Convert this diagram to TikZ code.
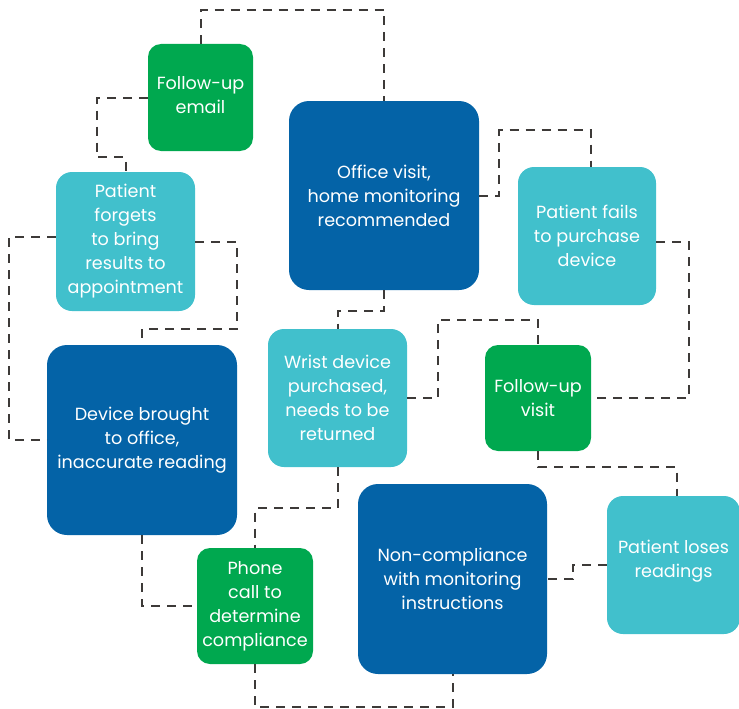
\documentclass[tikz,border=0pt]{standalone}
\usepackage{fontspec}
\setmainfont{Poppins}
\usetikzlibrary{calc}
\definecolor{dblue}{HTML}{0463A7}
\definecolor{fgreen}{HTML}{00A84F}
\definecolor{teal}{HTML}{41C0CC}
\definecolor{conncol}{HTML}{3D3A38}
\newcommand{\raisedlines}[2]{\raisebox{#1}[0pt][0pt]{\begin{tabular}{@{}c@{}}#2\end{tabular}}}
\tikzset{
  box/.style={rectangle, text=white, align=center, inner sep=2pt,
    font=\fontsize{17.6}{24}\selectfont},
  bigbox/.style={box, fill=dblue, rounded corners=20pt},
  greenbox/.style={box, fill=fgreen, rounded corners=13pt},
  tealbox/.style={box, fill=teal, rounded corners=16pt},
  conn/.style={draw=conncol, line width=2pt, dash pattern=on 9pt off 7pt}
}
\begin{document}
\begin{tikzpicture}[x=1pt,y=-1pt]
\useasboundingbox (0,0) rectangle (739,709);
% boxes
\node[greenbox, minimum width=105pt, minimum height=107pt] (email) at (200.5,97.5) {\raisedlines{-4pt}{Follow-up\\email}};
\node[bigbox, minimum width=190pt, minimum height=189pt] (office) at (384,195.5) {Office visit,\\home monitoring\\recommended};
\node[tealbox, minimum width=139pt, minimum height=139pt] (forgets) at (125.5,241.5) {Patient\\forgets\\to bring\\results to\\appointment};
\node[tealbox, minimum width=138pt, minimum height=138pt] (fails) at (587,236) {Patient fails\\to purchase\\device};
\node[greenbox, minimum width=106pt, minimum height=106pt] (fvisit) at (538,398) {Follow-up\\visit};
\node[bigbox, minimum width=190pt, minimum height=190pt] (device) at (142,440) {Device brought\\to office,\\inaccurate reading};
\node[tealbox, minimum width=139pt, minimum height=138pt] (wrist) at (337.5,398) {Wrist device\\purchased,\\needs to be\\returned};
\node[greenbox, minimum width=116pt, minimum height=116pt] (phone) at (255,606) {Phone\\call to\\determine\\compliance};
\node[bigbox, minimum width=189pt, minimum height=190pt] (noncomp) at (452.5,579) {Non-compliance\\with monitoring\\instructions};
\node[tealbox, minimum width=133pt, minimum height=138pt] (loses) at (673.5,565) {\raisedlines{0pt}{Patient loses\\readings}};
% connectors
\draw[conn] (email.north) -- ++(0,-34) -| (office.north);
\draw[conn] (email.west) -- ++(-51,0) -- ++(0,59.5) -| (forgets.north);
\draw[conn] ([yshift=4.5pt]forgets.west) -- ++(-47,0) |- (device.west);
\draw[conn] (forgets.east) -- ++(41.5,0) -- ++(0,87.5) -| (device.north);
\draw[conn] (office.south) -- ++(0,21) -| (wrist.north);
\draw[conn] (office.east) -- ++(20,0) -- ++(0,-65.5) -| ([xshift=4pt]fails.north);
\draw[conn] ([yshift=-6pt]fails.east) -- ++(33,0) |- (fvisit.east);
\draw[conn] (wrist.east) -- ++(31,0) -- ++(0,-78) -| (fvisit.north);
\draw[conn] (fvisit.south) -- ++(0,16) -| ([xshift=3pt]loses.north);
\draw[conn] (loses.west) -- ++(-34,0) |- (noncomp.east);
\draw[conn] (wrist.south) -- ++(0,41) -| (phone.north);
\draw[conn] (device.south) |- (phone.west);
\draw[conn] (phone.south) -- ++(0,43) -| (noncomp.south);
\end{tikzpicture}
\end{document}
